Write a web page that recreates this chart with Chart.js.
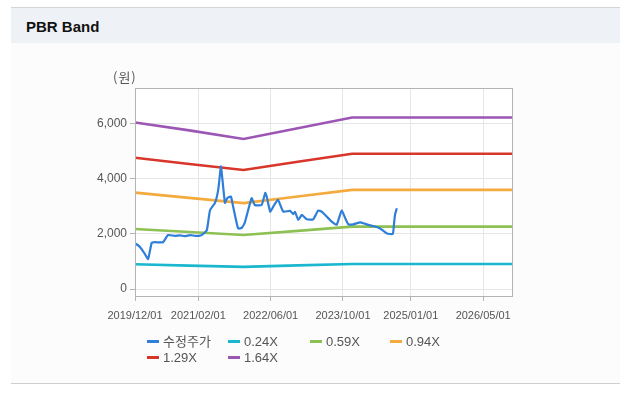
<!DOCTYPE html>
<html>
<head>
<meta charset="utf-8">
<script src="https://cdn.jsdelivr.net/npm/chart.js@4"></script>
<style>
  html, body { margin:0; padding:0; background:#fff; width:620px; height:395px; overflow:hidden; }
  body { position:relative; font-family:"Liberation Sans", "Noto Sans CJK KR", sans-serif; }
  #panel { position:absolute; left:11px; top:7px; width:609px; height:375px; background:#fcfcfc; border-top:1px solid #d4d4d4; border-bottom:1px solid #cfcfcf; }
  #head { position:absolute; left:0; top:0; width:100%; height:35px; background:#eef2f7; }
  #title { position:absolute; left:15px; top:10px; font:bold 15px "Liberation Sans", Arial, sans-serif; color:#111; }
  #unit { position:absolute; left:113px; top:67px; font:13px "Noto Sans CJK KR", sans-serif; color:#555; letter-spacing:1px; z-index:3; }
  #c { position:absolute; left:0; top:0; z-index:2; }
  .lg { position:absolute; font:13px "Liberation Sans", "Noto Sans CJK KR", sans-serif; color:#555; z-index:3; white-space:nowrap; line-height:16px; }
  .lg i { display:inline-block; width:12px; height:3px; vertical-align:middle; margin-right:4px; position:relative; top:-1px; }
</style>
</head>
<body>
<div id="panel"><div id="head"><div id="title">PBR Band</div></div></div>
<div id="unit">(원)</div>
<canvas id="c" width="620" height="395"></canvas>
<div id="legend"></div>
<script>
// ---- data (x = months since 2019/12/01) ----
const xTickMonths = [0, 14, 30, 46, 61, 77];
const xTickLabels = ['2019/12/01', '2021/02/01', '2022/06/01', '2023/10/01', '2025/01/01', '2026/05/01'];
const yTicks = [0, 2000, 4000, 6000];

const seriesNames = ['수정주가', '0.24X', '0.59X', '0.94X', '1.29X', '1.64X'];

const priceMonths = [0,1.1,2.2,2.9,3.7,4.4,6.2,7.3,8.8,10,11,12.2,13.3,14.4,15,15.9,16.6,17.7,18.4,19,19.2,19.9,20.4,21.2,21.7,22.8,23.6,24.3,25.8,26.5,28,28.8,29.1,29.9,30.6,31.6,32.8,34.3,35,35.4,36.1,36.9,38,39.4,40.5,41.3,42.4,43.5,44.6,45.7,46.5,47.2,48.3,49.8,50.5,51.6,53.1,54.2,55.7,57,57.3,57.5,57.9];
const priceValues = [1660,1530,1270,1090,1680,1700,1700,1960,1930,1950,1920,1960,1930,1940,1990,2150,2870,3130,3600,4450,4200,3130,3300,3360,3000,2200,2220,2420,3300,3050,3050,3490,3380,2810,3000,3240,2810,2840,2720,2800,2510,2690,2530,2530,2850,2810,2630,2450,2330,2850,2570,2350,2350,2420,2390,2330,2270,2200,2020,2000,2390,2690,2930];

const bandMonths = [0, 12, 24, 36, 48, 83.6];
const band024 = [900, 850, 805, 860, 910, 910];
const band059 = [2180, 2070, 1960, 2110, 2265, 2265];
const band094 = [3500, 3310, 3120, 3360, 3600, 3600];
const band129 = [4770, 4540, 4320, 4620, 4910, 4910];
const band164 = [6050, 5760, 5450, 5840, 6230, 6230];

const colors = ['#2f7ed8', '#1ab7cf', '#8dc153', '#f4aa3c', '#d8362b', '#9c56b4'];

// ---- build ----
const pts = (xs, ys) => xs.map((x, i) => ({ x: x, y: ys[i] }));
const seriesData = [
  pts(priceMonths, priceValues),
  pts(bandMonths, band024),
  pts(bandMonths, band059),
  pts(bandMonths, band094),
  pts(bandMonths, band129),
  pts(bandMonths, band164)
];

const datasets = seriesData.map((d, i) => ({
  label: seriesNames[i],
  data: d,
  borderColor: colors[i],
  backgroundColor: colors[i],
  borderWidth: i === 0 ? 2.2 : 2.6,
  pointRadius: 0,
  tension: i === 0 ? 0.15 : 0,
  fill: false
}));

const frame = {
  id: 'frame',
  beforeDraw(chart) {
    const { ctx, chartArea: a } = chart;
    ctx.save();
    ctx.fillStyle = '#ffffff';
    ctx.fillRect(a.left, a.top, a.right - a.left, a.bottom - a.top);
    ctx.restore();
  },
  afterDatasetsDraw(chart) {
    const { ctx, chartArea: a } = chart;
    ctx.save();
    ctx.strokeStyle = '#b4b4b4';
    ctx.lineWidth = 1;
    ctx.strokeRect(Math.round(a.left) + 0.5, Math.round(a.top) + 0.5, Math.round(a.right - a.left) - 1, Math.round(a.bottom - a.top) - 1);
    ctx.restore();
  }
};

const tickFont = { family: '"Liberation Sans", Arial, sans-serif', size: 11 };

new Chart(document.getElementById('c'), {
  type: 'line',
  data: { datasets: datasets },
  plugins: [frame],
  options: {
    responsive: false,
    animation: false,
    devicePixelRatio: 1,
    layout: { padding: { left: 0, right: 107, top: 88, bottom: 68 } },
    plugins: { legend: { display: false }, tooltip: { enabled: false } },
    scales: {
      x: {
        type: 'linear',
        min: 0,
        max: 83.6,
        afterBuildTicks: s => { s.ticks = xTickMonths.map(v => ({ value: v })); },
        afterFit: s => { s.height = 30; },
        ticks: {
          autoSkip: false, maxRotation: 0, padding: 8, color: '#555', font: tickFont,
          callback: v => { const k = xTickMonths.indexOf(v); return k >= 0 ? xTickLabels[k] : ''; }
        },
        grid: { color: '#e6e6e6', tickColor: '#b4b4b4', tickLength: 4 },
        border: { display: false }
      },
      y: {
        min: -290,
        max: 7300,
        afterBuildTicks: s => { s.ticks = yTicks.map(v => ({ value: v })); },
        afterFit: s => { s.width = 135; },
        ticks: {
          padding: 3, color: '#555', font: { family: '"Liberation Sans", Arial, sans-serif', size: 12 },
          callback: v => v.toLocaleString('en-US')
        },
        grid: { color: '#e6e6e6', tickColor: '#b4b4b4', tickLength: 5 },
        border: { display: false }
      }
    }
  }
});

// ---- HTML legend (grid like the reference) ----
const legendPos = [[147, 334], [228, 334], [310, 334], [390, 334], [147, 350], [228, 350]];
const lg = document.getElementById('legend');
seriesNames.forEach((n, i) => {
  const d = document.createElement('div');
  d.className = 'lg';
  d.style.left = legendPos[i][0] + 'px';
  d.style.top = legendPos[i][1] + 'px';
  d.innerHTML = '<i style="background:' + colors[i] + '"></i>' + n;
  lg.appendChild(d);
});
</script>
</body>
</html>
